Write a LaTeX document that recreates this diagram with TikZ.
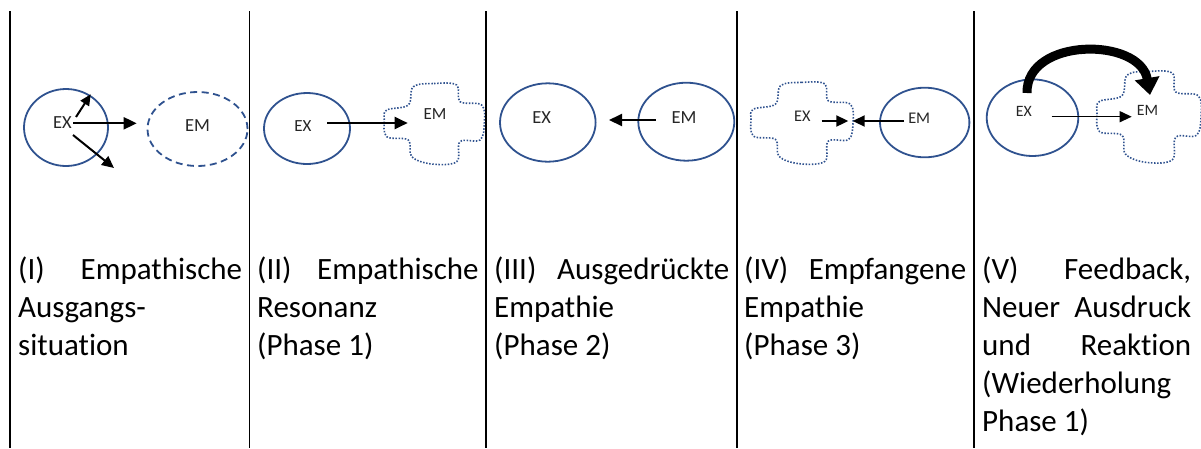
\documentclass[tikz,border=0pt]{standalone}
\usepackage{fontspec}
\setmainfont{Carlito}[Ligatures=NoCommon]
\usetikzlibrary{shapes.geometric,arrows.meta}
\definecolor{shapeblue}{RGB}{47,82,143}
\definecolor{inkgray}{RGB}{38,38,38}
\tikzset{
  rule/.style={line width=1.8pt, line cap=butt},
  ring/.style={ellipse, draw=shapeblue, line width=1.8pt, inner sep=0pt},
  dashring/.style={ring, dash pattern=on 7pt off 4.5pt},
  blobline/.style={draw=shapeblue, line width=1.6pt, dash pattern=on 1.5pt off 1.6pt},
  lbl/.style={inner sep=0pt, text=inkgray, font=\fontsize{#1}{#1}\selectfont},
  arr/.style={-{Triangle[width=12pt,length=13pt]}, line width=2pt},
  thinarr/.style={-{Triangle[width=11pt,length=12pt]}, line width=1.3pt},
  caption/.style={anchor=base west, inner sep=0pt, text=black,
    font=\fontsize{31}{38}\selectfont},
}
% rounded cross outline: #1 centre, #2 x-scale, #3 y-scale
\newcommand\crossblob[3]{%
  \draw[blobline, shift={#1}, xscale=#2, yscale=#3]
    plot[smooth cycle, tension=0.6] coordinates {
      (-20.7,-37.3) (0,-40.5) (22.7,-39) (26,-22.3) (47.7,-19) (50.3,-0.7)
      (46,16) (26,17.7) (22.7,37.7) (-2.3,40) (-22.3,32.7) (-25.7,16)
      (-47.3,12.7) (-49.7,-4) (-47.3,-14) (-25.7,-19)};}
\begin{document}
\begin{tikzpicture}[x=1pt, y=-1pt]
\useasboundingbox (0,0) rectangle (1201,448);

% ---- stage I ----
\node[ring, minimum width=84pt, minimum height=77pt] (ex1) at (66,127.5) {};
\node[dashring, minimum width=100pt, minimum height=74pt] (em1) at (197.5,129) {};
\node[lbl=18.5] (ex1t) at (62.5,123) {EX};
\node[lbl=18.5] (em1t) at (197.5,126) {EM};
\coordinate (p1a) at (73,123.3);  \coordinate (p1b) at (136.7,123.3);
\coordinate (p1c) at (76,117);    \coordinate (p1d) at (90.7,94.3);
\coordinate (p1e) at (73,135);    \coordinate (p1f) at (114,168);
\draw[arr] (p1a) -- (p1b);
\draw[-{Triangle[width=10pt,length=11pt]}, line width=2pt] (p1c) -- (p1d);
\draw[-{Triangle[width=11pt,length=12pt]}, line width=2pt] (p1e) -- (p1f);

% ---- stage II ----
\node[ring, minimum width=86pt, minimum height=71pt] (ex2) at (307,128.5) {};
\crossblob{(434,124)}{1}{1}
\node[lbl=17] (ex2t) at (303,126) {EX};
\node[lbl=17] (em2t) at (435,114.5) {EM};
\coordinate (p2a) at (327,123);  \coordinate (p2b) at (407.7,123);
\draw[arr] (p2a) -- (p2b);

% ---- stage III ----
\node[ring, minimum width=95.6pt, minimum height=78.4pt] (ex3) at (547.8,122.5) {};
\node[ring, minimum width=96pt, minimum height=78pt] (em3) at (686.3,121.7) {};
\node[lbl=18.5] (ex3t) at (541.7,118) {EX};
\node[lbl=18.5] (em3t) at (684,118) {EM};
\coordinate (p3a) at (655.7,120);  \coordinate (p3b) at (609,120);
\draw[arr] (p3a) -- (p3b);

% ---- stage IV ----
\crossblob{(801.7,123.3)}{1.02}{1.01}
\node[ring, minimum width=89.4pt, minimum height=69.6pt] (em4) at (924.7,122.5) {};
\node[lbl=16.3] (ex4t) at (802.3,116) {EX};
\node[lbl=16.3] (em4t) at (919.2,118) {EM};
\coordinate (p4a) at (821.7,121);  \coordinate (p4b) at (848.3,121);
\coordinate (p4c) at (904,121);    \coordinate (p4d) at (852.7,121);
\draw[-{Triangle[width=11pt,length=12pt]}, line width=2pt] (p4a) -- (p4b);
\draw[-{Triangle[width=11pt,length=12pt]}, line width=2pt] (p4c) -- (p4d);

% ---- stage V ----
\node[ring, minimum width=91.6pt, minimum height=76.6pt] (ex5) at (1032.5,117.7) {};
\crossblob{(1148.7,117.2)}{1.04}{1.13}
\node[lbl=15.8] (ex5t) at (1023.8,111.7) {EX};
\node[lbl=15.8] (em5t) at (1147.5,110.5) {EM};
\coordinate (p5a) at (1051.7,116.7);  \coordinate (p5b) at (1131.7,116.7);
\draw[thinarr] (p5a) -- (p5b);
\coordinate (p5s) at (1027,93);  \coordinate (p5e) at (1150,95);
\draw[line width=9pt, -{Triangle[width=24pt,length=17pt]}]
  (p5s) .. controls (1026,37) and (1140,37) .. (p5e);

% ---- column rules ----
\foreach \cx in {10,249.5,486,737,974}
  \draw[rule] (\cx,11) -- (\cx,448);

% ---- captions ----
\node[caption] (cap1) at (18,279.5)
  {\parbox[t]{224pt}{(I)\hfill Empathische\\Ausgangs-\\situation}};
\node[caption] (cap2) at (257,279.5)
  {\parbox[t]{221.5pt}{(II)\hfill Empathische\\Resonanz\\(Phase 1)}};
\node[caption] (cap3) at (494,279.5)
  {\parbox[t]{235pt}{(III)\hfill Ausgedrückte\\Empathie\\(Phase 2)}};
\node[caption] (cap4) at (744,279.5)
  {\parbox[t]{222pt}{(IV)\hfill Empfangene\\Empathie\\(Phase 3)}};
\node[caption] (cap5) at (982,279.5)
  {\parbox[t]{209pt}{(V)\hfill Feedback,\\Neuer\hfill Ausdruck\\und\hfill Reaktion\\(Wiederholung\\Phase 1)}};
\end{tikzpicture}
\end{document}
